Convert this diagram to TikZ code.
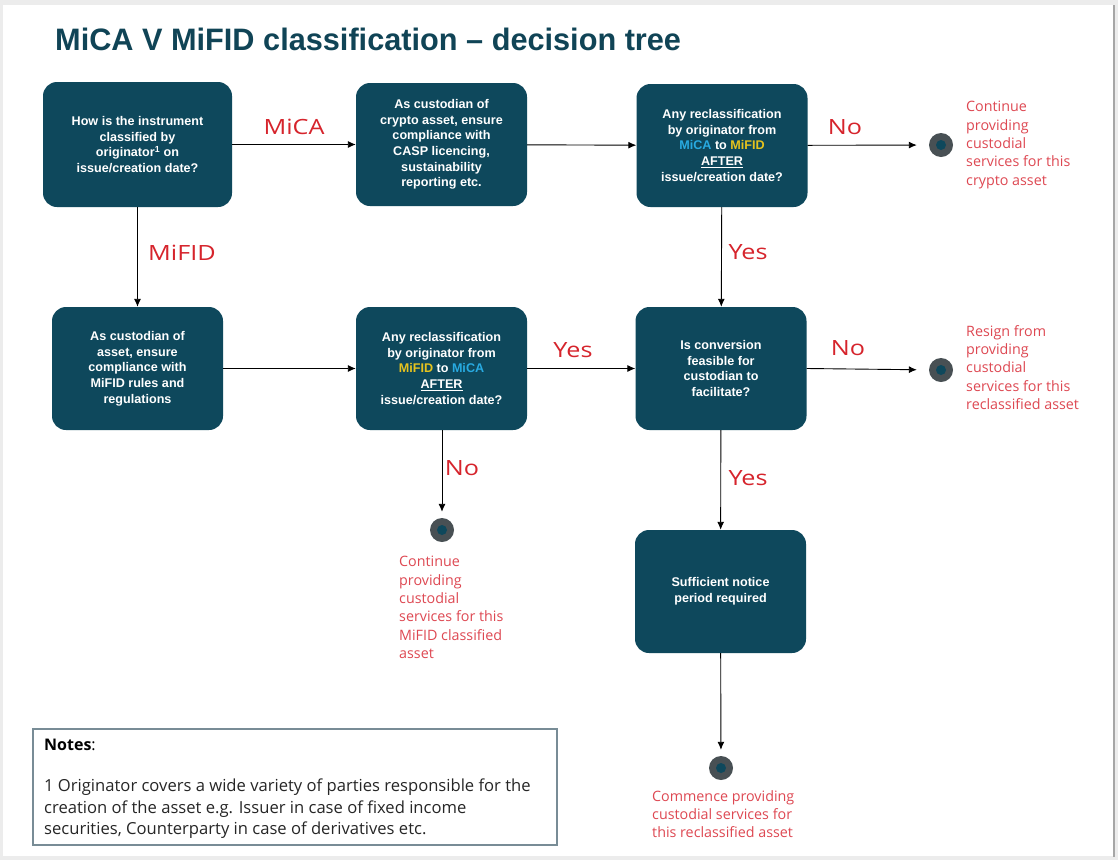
\documentclass[tikz,border=0pt]{standalone}
\usepackage{fontspec}
\setmainfont{Liberation Sans}
\newfontfamily\opensans{Open Sans}
\newfontfamily\opensanswide[FakeStretch=1.2]{Open Sans}
\usetikzlibrary{arrows.meta}
\definecolor{boxc}{RGB}{14,72,92}
\definecolor{titc}{RGB}{16,68,86}
\definecolor{redl}{RGB}{214,36,44}
\definecolor{redt}{RGB}{222,72,82}
\definecolor{micac}{RGB}{40,170,225}
\definecolor{mifidc}{RGB}{230,195,30}
\definecolor{ringc}{RGB}{72,80,84}
\definecolor{notec}{RGB}{120,140,150}
\definecolor{bgc}{RGB}{236,236,236}
\tikzset{
  dbox/.style={fill=boxc, rounded corners=14pt, text=white,
    font=\bfseries\fontsize{12.6}{15.7}\selectfont, align=center,
    minimum width=171pt, minimum height=123pt, inner sep=2pt},
  lbl/.style={text=redl, font=\opensanswide\fontsize{21}{24}\selectfont, inner sep=0pt},
  endtxt/.style={text=redt, font=\opensans\fontsize{14.3}{18.4}\selectfont, align=left, inner sep=0pt},
  endpt/.style={circle, fill=ringc, minimum size=24pt, inner sep=0pt,
    path picture={\fill[boxc] (path picture bounding box.center) circle (5pt);}},
  conn/.style={draw=black, line width=0.9pt, -{Latex[length=8pt,width=7pt]}},
}
\begin{document}
\begin{tikzpicture}[x=1pt,y=-1pt]
% page frame
\fill[bgc] (0,0) rectangle (1118,860);
\fill[white] (3,5) rectangle (1113,856);
\draw[gray!70, line width=1.5pt] (1114,5) -- (1114,857);
\useasboundingbox (0,0) rectangle (1118,860);

% title
\node[anchor=base west, inner sep=0pt, text=titc, font=\bfseries\fontsize{31}{36}\selectfont]
  (title) at (55,50) {\scalebox{0.99}[1]{MiCA V MiFID classification -- decision tree}};

% boxes
\node[dbox, minimum width=189pt, minimum height=125pt] (q1) at (137.5,144.5)
  {How is the instrument\\classified by\\originator\textsuperscript{1} on\\issue/creation date?};
\node[dbox] (b2) at (441.5,144.5)
  {As custodian of\\crypto asset, ensure\\compliance with\\CASP licencing,\\sustainability\\reporting etc.};
\node[dbox] (b3) at (722,145.5)
  {Any reclassification\\by originator from\\{\color{micac}MiCA} to {\color{mifidc}MiFID}\\\underline{AFTER}\\issue/creation date?};
\node[dbox] (b4) at (137.5,368.5)
  {As custodian of\\asset, ensure\\compliance with\\MiFID rules and\\regulations};
\node[dbox] (b5) at (441.5,368.5)
  {Any reclassification\\by originator from\\{\color{mifidc}MiFID} to {\color{micac}MiCA}\\\underline{AFTER}\\issue/creation date?};
\node[dbox] (b6) at (721,368.5)
  {Is conversion\\feasible for\\custodian to\\facilitate?};
\node[dbox] (b7) at (720.5,591.5)
  {Sufficient notice\\period required};

% end points
\node[endpt] (e1) at (941,145) {};
\node[endpt] (e2) at (941,370) {};
\node[endpt] (e3) at (442,530) {};
\node[endpt] (e4) at (721,768) {};

% connectors
\draw[conn] (q1) -- (b2);
\draw[conn] (b2) -- (b3);
\draw[conn, shorten >=12pt] (b3) -- (e1);
\draw[conn] (b3) -- (b6);
\draw[conn] (q1) -- (b4);
\draw[conn] (b4) -- (b5);
\draw[conn] (b5.east) -- (b6.west);
\draw[conn, shorten >=12pt] (b6.east) -- (e2);
\draw[conn, shorten >=6pt] (b5.south -| e3) -- (e3);
\draw[conn] (b6) -- (b7);
\draw[conn, shorten >=6pt] (b7) -- (e4);

% connector labels
\node[lbl] (lmica) at (294,127) {MiCA};
\node[lbl] (lmifid) at (182,253) {MiFID};
\node[lbl] (lno1) at (845,127) {No};
\node[lbl] (lyes1) at (748,252) {Yes};
\node[lbl] (lyes2) at (573,350) {Yes};
\node[lbl] (lno2) at (848,348) {No};
\node[lbl] (lno3) at (462,468) {No};
\node[lbl] (lyes3) at (748,478) {Yes};

% end texts
\node[endtxt, anchor=north west] (t1) at (966,101)
  {Continue\\providing\\custodial\\services for this\\crypto asset};
\node[endtxt, anchor=north west] (t2) at (966,325)
  {Resign from\\providing\\custodial\\services for this\\reclassified asset};
\node[endtxt, anchor=north west] (t3) at (399,556)
  {Continue\\providing\\custodial\\services for this\\MiFID classified\\asset};
\node[endtxt, anchor=north west] (t4) at (652,790)
  {Commence providing\\custodial services for\\this reclassified asset};

% notes
\node[draw=notec, line width=1.3pt, minimum width=524pt, minimum height=116pt, inner sep=0pt] (notes) at (295,787) {};
\node[anchor=west, inner sep=0pt, font=\opensans\fontsize{16}{18}\selectfont] (nhead) at (44,745) {\textbf{Notes}:};
\node[anchor=north west, inner sep=0pt, align=left, font=\opensans\fontsize{16.6}{21.3}\selectfont, text=black!85] (nbody) at (44,779)
  {1 Originator covers a wide variety of parties responsible for the\\creation of the asset e.g. Issuer in case of fixed income\\securities, Counterparty in case of derivatives etc.};
\end{tikzpicture}
\end{document}
